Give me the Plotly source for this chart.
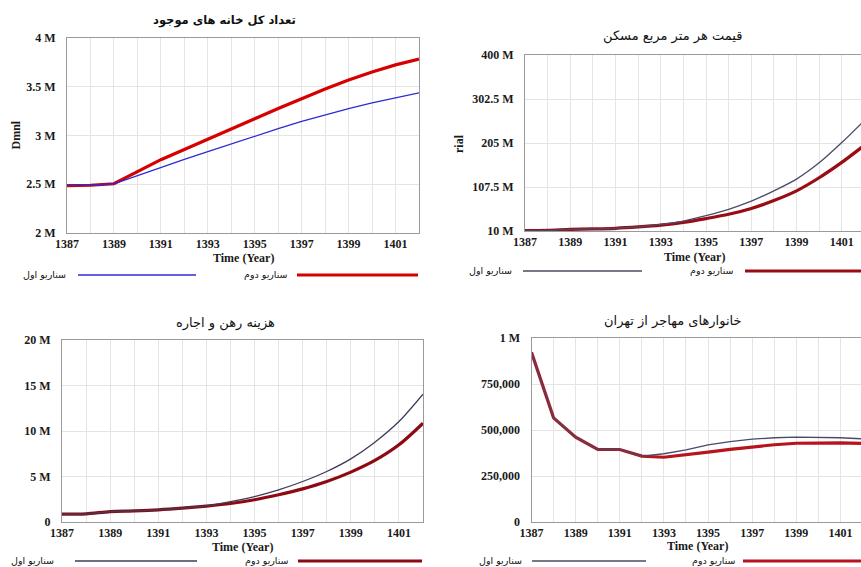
import plotly.graph_objects as go

W, H = 861, 567

# ---------------- data ----------------
years = list(range(1387, 1403))

scenario_labels = ["سناریو اول", "سناریو دوم"]

# total housing stock (Dmnl)
housing_s1 = [2.485e6, 2.49e6, 2.505e6, 2.59e6, 2.672e6, 2.755e6, 2.834e6, 2.914e6,
              2.993e6, 3.07e6, 3.145e6, 3.213e6, 3.276e6, 3.335e6, 3.39e6, 3.438e6]
housing_s2 = [2.485e6, 2.49e6, 2.505e6, 2.63e6, 2.752e6, 2.856e6, 2.959e6, 3.066e6,
              3.172e6, 3.277e6, 3.379e6, 3.477e6, 3.569e6, 3.652e6, 3.724e6, 3.783e6]

# price per square metre (rial)
price_s1 = [11e6, 11.5e6, 13.5e6, 14.5e6, 16e6, 19e6, 24.5e6, 32e6,
            44e6, 58e6, 76e6, 99e6, 125e6, 161e6, 206e6, 255e6]
price_s2 = [11e6, 11.5e6, 13.5e6, 14.5e6, 16e6, 19e6, 23e6, 29e6,
            37.5e6, 47e6, 60e6, 77.5e6, 99e6, 128e6, 162e6, 200e6]

# mortgage and rent cost
rent_s1 = [0.86e6, 0.9e6, 1.15e6, 1.23e6, 1.34e6, 1.52e6, 1.78e6, 2.25e6,
           2.8e6, 3.53e6, 4.45e6, 5.55e6, 6.94e6, 8.77e6, 11.04e6, 14.05e6]
rent_s2 = [0.86e6, 0.9e6, 1.15e6, 1.23e6, 1.34e6, 1.52e6, 1.75e6, 2.03e6,
           2.44e6, 2.99e6, 3.64e6, 4.45e6, 5.48e6, 6.76e6, 8.48e6, 10.86e6]

# households migrating out of Tehran
migr_s1 = [922e3, 566e3, 461e3, 394e3, 394e3, 358e3, 371e3, 392e3,
           419e3, 437e3, 450e3, 458e3, 461e3, 461e3, 458e3, 452e3]
migr_s2 = [922e3, 566e3, 461e3, 394e3, 394e3, 358e3, 352e3, 364e3,
           380e3, 395e3, 408e3, 420e3, 428e3, 431e3, 430e3, 427e3]

titles = ["تعداد کل خانه های موجود", "قیمت هر متر مربع مسکن",
          "هزینه رهن و اجاره", "خانوارهای مهاجر از تهران"]

housing_ticks = [2e6, 2.5e6, 3e6, 3.5e6, 4e6]
housing_ticktext = ["2 M", "2.5 M", "3 M", "3.5 M", "4 M"]
price_ticks = [10e6, 107.5e6, 205e6, 302.5e6, 400e6]
price_ticktext = ["10 M", "107.5 M", "205 M", "302.5 M", "400 M"]
rent_ticks = [0, 5e6, 10e6, 15e6, 20e6]
rent_ticktext = ["0", "5 M", "10 M", "15 M", "20 M"]
migr_ticks = [0, 250e3, 500e3, 750e3, 1e6]
migr_ticktext = ["0", "250,000", "500,000", "750,000", "1 M"]

x_ticks = list(range(1387, 1403, 2))

# ---------------- helpers ----------------
def px(x):
    return x / W

def py(y):
    return 1 - y / H

SERIF = "Liberation Serif"
ARABIC = "DejaVu Sans"
GRID = "#e4e4e4"
FRAME = "#9a9a9a"

# panel geometry in pixels: left, right, top, bottom, x range end, right side cut
panels = [
    dict(l=67, r=419, t=38, b=233, xend=1402.0, cut=False,
         ticks=housing_ticks, ticktext=housing_ticktext, yr=[2e6, 4e6],
         s1=housing_s1, s2=housing_s2, c1="#2b2bd6", c2="#d60000",
         shape="linear", title_y=20, title_x=224, title_bold=True,
         xt_y=258, leg_y=275, leg=(23, 67, 78, 196, 241, 289, 297, 418),
         ylabel="Dmnl", ylab_x=15),
    dict(l=525, r=861, t=55, b=231, xend=1401.85, cut=True,
         ticks=price_ticks, ticktext=price_ticktext, yr=[10e6, 400e6],
         s1=price_s1, s2=price_s2, c1="#4a4a66", c2="#9a0c14",
         shape="spline", title_y=36, title_x=672, title_bold=False,
         xt_y=257, leg_y=271, leg=(468, 513, 523, 642, 692, 735, 745, 861),
         ylabel="rial", ylab_x=459),
    dict(l=62, r=423, t=340, b=522, xend=1402.0, cut=False,
         ticks=rent_ticks, ticktext=rent_ticktext, yr=[0, 20e6],
         s1=rent_s1, s2=rent_s2, c1="#3c3c5a", c2="#8e0a12",
         shape="spline", title_y=323, title_x=225, title_bold=False,
         xt_y=547, leg_y=561, leg=(13, 55, 75, 197, 240, 290, 298, 422),
         ylabel=None, ylab_x=None),
    dict(l=531.5, r=861, t=338, b=522, xend=1401.93, cut=True,
         ticks=migr_ticks, ticktext=migr_ticktext, yr=[0, 1e6],
         s1=migr_s1, s2=migr_s2, c1="#4a4a66", c2="#b8141e",
         shape="linear", title_y=321, title_x=673, title_bold=False,
         xt_y=546, leg_y=561, leg=(480, 523, 532, 646, 693, 737, 743, 861),
         ylabel=None, ylab_x=None),
]

fig = go.Figure()
annotations = []
shapes = []
layout_axes = {}

for i, p in enumerate(panels, start=1):
    xa = "x" if i == 1 else f"x{i}"
    ya = "y" if i == 1 else f"y{i}"
    # thick second-scenario line underneath, thin first-scenario line on top
    fig.add_trace(go.Scatter(x=years, y=p["s2"], mode="lines", xaxis=xa, yaxis=ya,
                             line=dict(color=p["c2"], width=3.2, shape=p["shape"], smoothing=0.8),
                             name=scenario_labels[1], showlegend=False))
    fig.add_trace(go.Scatter(x=years, y=p["s1"], mode="lines", xaxis=xa, yaxis=ya,
                             line=dict(color=p["c1"], width=1.3, shape=p["shape"], smoothing=0.8),
                             name=scenario_labels[0], showlegend=False))

    tick_font = dict(family=SERIF, size=12, color="#1a1a1a", weight="bold")
    layout_axes[f"xaxis{'' if i == 1 else i}"] = dict(
        domain=[px(p["l"]), px(p["r"])], anchor=ya, range=[1387, p["xend"]],
        tickvals=x_ticks, ticktext=[str(v) for v in x_ticks], tickfont=tick_font,
        showgrid=True, gridcolor=GRID, gridwidth=1,
        minor=dict(tickvals=years, showgrid=True, gridcolor=GRID, gridwidth=1),
        showline=True, linecolor=FRAME, linewidth=1, mirror=True,
        ticks="", zeroline=False, fixedrange=True, automargin=False,
    )
    layout_axes[f"yaxis{'' if i == 1 else i}"] = dict(
        domain=[py(p["b"]), py(p["t"])], anchor=xa, range=p["yr"],
        tickvals=p["ticks"], ticktext=p["ticktext"], tickfont=tick_font,
        showgrid=True, gridcolor=GRID, gridwidth=1,
        showline=True, linecolor=FRAME, linewidth=1, mirror=not p["cut"],
        ticks="", ticklabelstandoff=8, zeroline=False, fixedrange=True,
        automargin=False,
    )

    # panel title
    annotations.append(dict(
        text=titles[i - 1], x=px(p["title_x"]), y=py(p["title_y"]), xref="paper", yref="paper",
        xanchor="center", yanchor="middle", showarrow=False,
        font=dict(family=ARABIC, size=11.5 if p["title_bold"] else 13, color="#111",
                  weight="bold" if p["title_bold"] else "normal")))
    # x axis title, centred on the full 1387-1402 span
    full_span_px = (1402 - 1387) / (p["xend"] - 1387) * (p["r"] - p["l"])
    x_center = p["l"] + full_span_px / 2
    annotations.append(dict(
        text="Time (Year)", x=px(x_center), y=py(p["xt_y"]), xref="paper", yref="paper",
        xanchor="center", yanchor="middle", showarrow=False,
        font=dict(family=SERIF, size=12, color="#1a1a1a", weight="bold")))
    # y axis label
    if p["ylabel"]:
        annotations.append(dict(
            text=p["ylabel"], x=px(p["ylab_x"]), y=py((p["t"] + p["b"]) / 2),
            xref="paper", yref="paper", xanchor="center", yanchor="middle",
            showarrow=False, textangle=-90,
            font=dict(family=SERIF, size=12, color="#1a1a1a", weight="bold")))

    # legend: label to the left of each line sample
    t1l, t1r, l1a, l1b, t2l, t2r, l2a, l2b = p["leg"]
    for label, tr, la, lb, col, wd in [
        (scenario_labels[0], t1r, l1a, l1b, p["c1"], 1.3),
        (scenario_labels[1], t2r, l2a, l2b, p["c2"], 3.2),
    ]:
        annotations.append(dict(
            text=label, x=px(tr), y=py(p["leg_y"] - 1), xref="paper", yref="paper",
            xanchor="right", yanchor="middle", showarrow=False, borderpad=0,
            font=dict(family=ARABIC, size=9.5, color="#111")))
        shapes.append(dict(
            type="line", xref="paper", yref="paper",
            x0=px(la), x1=min(px(lb), 1.0), y0=py(p["leg_y"]), y1=py(p["leg_y"]),
            line=dict(color=col, width=wd)))

fig.update_layout(
    width=W, height=H,
    margin=dict(l=0, r=0, t=0, b=0, autoexpand=False),
    paper_bgcolor="white", plot_bgcolor="white",
    showlegend=False,
    annotations=annotations,
    shapes=shapes,
    **layout_axes,
)

fig.write_html("out.html")
